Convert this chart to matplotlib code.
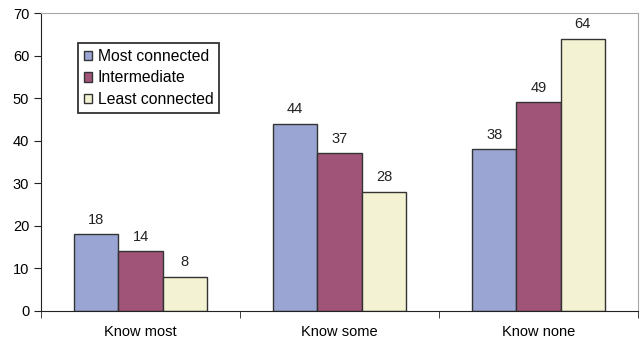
import numpy as np
import matplotlib.pyplot as plt

# Share of respondents by how many neighbours they know
categories = ['Know most', 'Know some', 'Know none']
series = ['Most connected', 'Intermediate', 'Least connected']
most_connected = [18, 44, 38]
intermediate = [14, 37, 49]
least_connected = [8, 28, 64]
colors = ['#9aa5d3', '#a05578', '#f3f2d3']

plt.rcParams['font.family'] = ['Liberation Sans', 'DejaVu Sans']

fig = plt.figure(figsize=(6.43, 3.45), dpi=100)
ax = fig.add_axes([0.0638, 0.0986, 0.9284, 0.8637])

x = np.arange(len(categories))
width = 0.223
for i, (name, vals) in enumerate(zip(series, [most_connected, intermediate, least_connected])):
    pos = x + (i - 1) * width
    ax.bar(pos, vals, width, color=colors[i], edgecolor='#333333', linewidth=1.0, label=name)
    for px, v in zip(pos, vals):
        ax.text(px, v + 1.8, str(v), ha='center', va='bottom', fontsize=10.5, color='#222222')

ax.set_xlim(-0.5, len(categories) - 0.5)
ax.set_ylim(0, 70)
ax.set_yticks(range(0, 71, 10))
ax.set_xticks(x)
ax.set_xticklabels(categories, fontsize=10.5)
ax.set_xticks(np.arange(len(categories) + 1) - 0.5, minor=True)
ax.tick_params(axis='x', which='major', length=0, pad=10)
ax.tick_params(axis='x', which='minor', length=5, direction='out', color='#222222')
ax.tick_params(axis='y', length=5, direction='out', labelsize=10.5, color='#222222')

for s in ['top', 'right']:
    ax.spines[s].set_color('#a8a8a8')
for s in ['left', 'bottom']:
    ax.spines[s].set_color('#222222')

leg = ax.legend(loc='upper left', bbox_to_anchor=(0.062, 0.898), fontsize=11.3,
                frameon=True, fancybox=False, handlelength=0.55, handleheight=0.55,
                handletextpad=0.35, borderpad=0.35, labelspacing=0.42, borderaxespad=0)
leg.get_frame().set_edgecolor('black')
leg.get_frame().set_linewidth(1.3)

fig.savefig('out.png', dpi=100)
